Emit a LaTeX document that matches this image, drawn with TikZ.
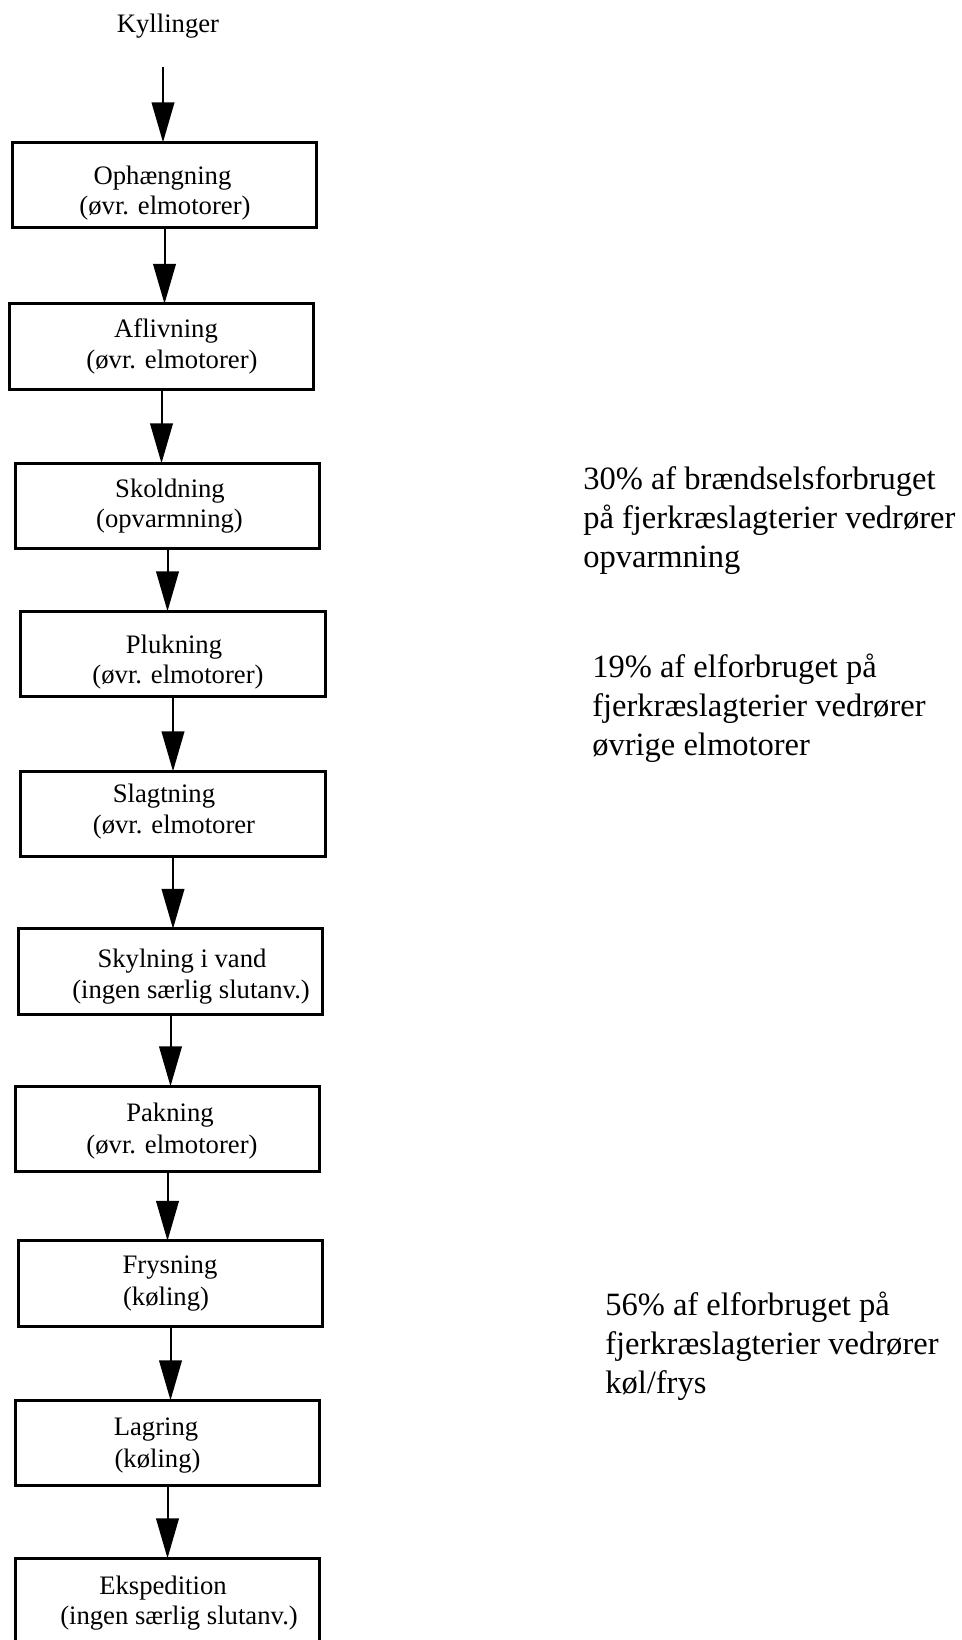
\documentclass[tikz,border=0pt]{standalone}
\usepackage{fontspec}
\setmainfont{Liberation Serif}
\usetikzlibrary{arrows.meta}

\tikzset{
  procbox/.style={draw, line width=2pt, inner sep=0pt, outer sep=0pt,
                  minimum width=228.4pt, minimum height=64.1pt},
  boxline/.style={inner sep=0pt, anchor=base, font=\fontsize{20}{24}\selectfont},
  % multi-line notes: the base anchor sits on the last line's baseline
  sidenote/.style={inner sep=0pt, anchor=base west, align=left,
                   font=\fontsize{24.4}{28.9}\selectfont},
  flowarrow/.style={line width=1.5pt, -{Triangle[length=30pt,width=17pt]}}
}

\begin{document}
\begin{tikzpicture}[x=0.75pt, y=-0.75pt]
  \useasboundingbox (0,0) rectangle (961,1640);
  \clip (0,0) rectangle (961,1640);

  % input label
  \node[boxline] (kyl) at (168,33) {Kyllinger};
  \coordinate (kstart) at (163,67);

  % process steps (frames)
  \node[procbox] (b1)  at (164.5,185)   {};
  \node[procbox] (b2)  at (161.5,346.5) {};
  \node[procbox] (b3)  at (167.5,506)   {};
  \node[procbox] (b4)  at (173,654)     {};
  \node[procbox] (b5)  at (173,814)     {};
  \node[procbox] (b6)  at (170.5,971.5) {};
  \node[procbox] (b7)  at (167.5,1129)  {};
  \node[procbox] (b8)  at (170.5,1283.5){};
  \node[procbox] (b9)  at (167.5,1443)  {};
  \node[procbox] (b10) at (167.5,1601)  {};

  % step texts
  \node[boxline] (t1a)  at (162.5,185)  {Ophængning};
  \node[boxline] (t1b)  at (165,215)    {(øvr. elmotorer)};
  \node[boxline] (t2a)  at (166,338)    {Aflivning};
  \node[boxline] (t2b)  at (172,369)    {(øvr. elmotorer)};
  \node[boxline] (t3a)  at (170,497)    {Skoldning};
  \node[boxline] (t3b)  at (169.5,527)  {(opvarmning)};
  \node[boxline] (t4a)  at (174,653)    {Plukning};
  \node[boxline] (t4b)  at (178,683)    {(øvr. elmotorer)};
  \node[boxline] (t5a)  at (164,802)    {Slagtning};
  \node[boxline] (t5b)  at (174,833)    {(øvr. elmotorer};
  \node[boxline] (t6a)  at (182,967)    {Skylning i vand};
  \node[boxline] (t6b)  at (191,998)    {(ingen særlig slutanv.)};
  \node[boxline] (t7a)  at (170,1121)   {Pakning};
  \node[boxline] (t7b)  at (172,1153)   {(øvr. elmotorer)};
  \node[boxline] (t8a)  at (170,1273)   {Frysning};
  \node[boxline] (t8b)  at (166,1305)   {(køling)};
  \node[boxline] (t9a)  at (156,1435)   {Lagring};
  \node[boxline] (t9b)  at (157.5,1467) {(køling)};
  \node[boxline] (t10a) at (163,1594)   {Ekspedition};
  \node[boxline] (t10b) at (179,1624)   {(ingen særlig slutanv.)};

  % flow arrows
  \draw[flowarrow] (kstart) -- (kstart |- b1.north);
  \draw[flowarrow] (b1.south) -- (b1.south |- b2.north);
  \draw[flowarrow] (b2.south) -- (b2.south |- b3.north);
  \draw[flowarrow] (b3.south) -- (b3.south |- b4.north);
  \draw[flowarrow] (b4.south) -- (b4.south |- b5.north);
  \draw[flowarrow] (b5.south) -- (b5.south |- b6.north);
  \draw[flowarrow] (b6.south) -- (b6.south |- b7.north);
  \draw[flowarrow] (b7.south) -- (b7.south |- b8.north);
  \draw[flowarrow] (b8.south) -- (b8.south |- b9.north);
  \draw[flowarrow] (b9.south) -- (b9.south |- b10.north);

  % energy-share notes
  \node[sidenote] (n1) at (583,567)
    {30\% af brændselsforbruget\\på fjerkræslagterier vedrører\\opvarmning};
  \node[sidenote] (n2) at (592,755)
    {19\% af elforbruget på\\fjerkræslagterier vedrører\\øvrige elmotorer};
  \node[sidenote] (n3) at (605,1393)
    {56\% af elforbruget på\\fjerkræslagterier vedrører\\køl/frys};
\end{tikzpicture}
\end{document}
